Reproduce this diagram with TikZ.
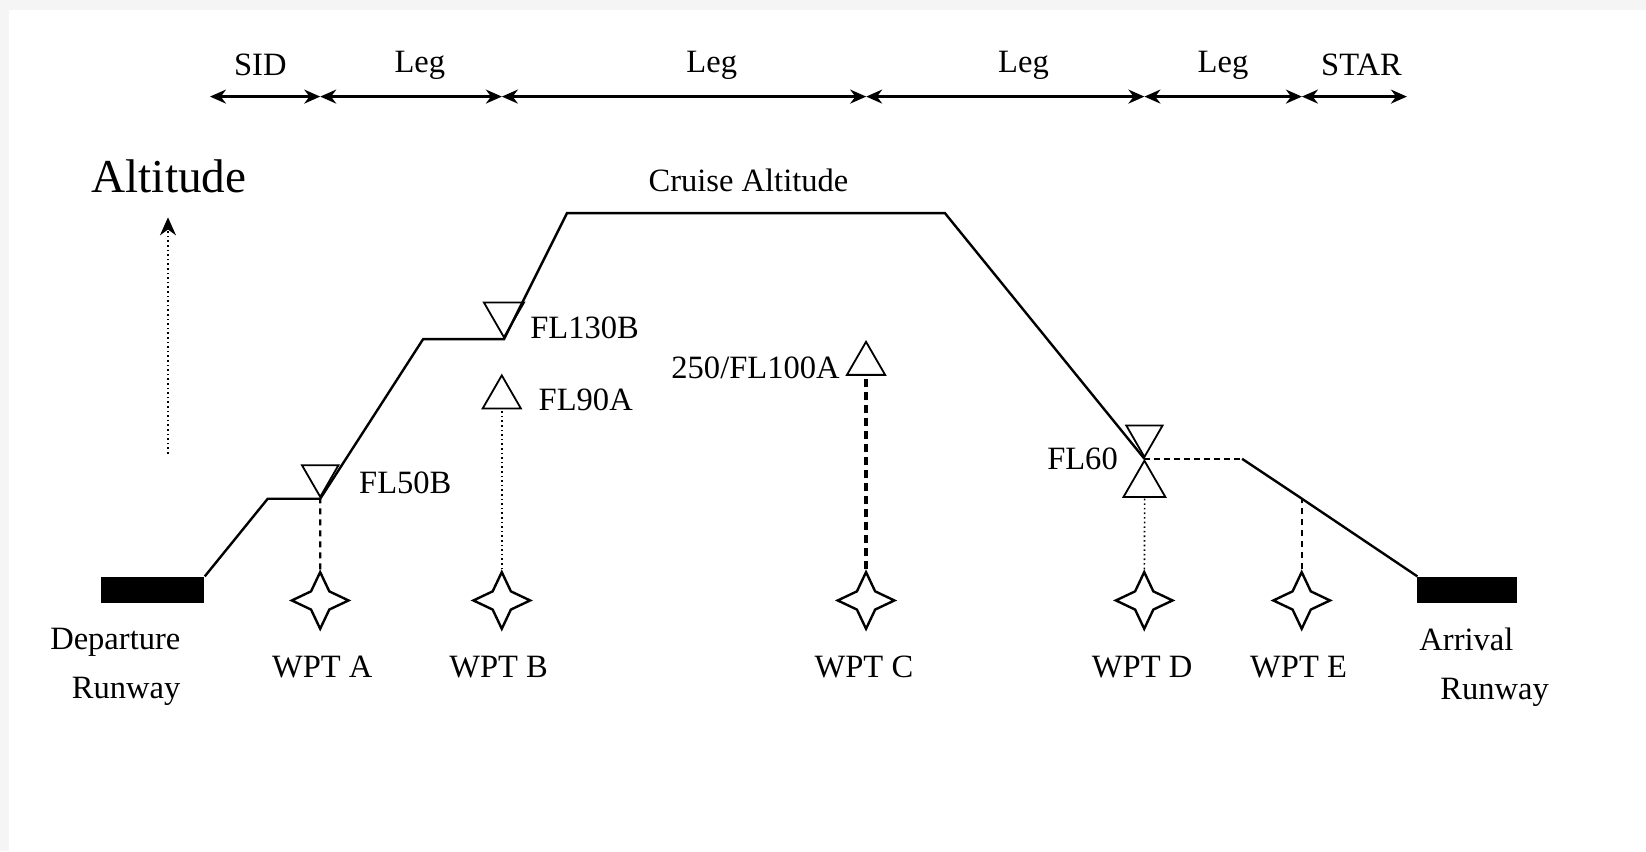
\documentclass[tikz,border=0pt]{standalone}
\usepackage{fontspec}
\setmainfont{Liberation Serif}
\usetikzlibrary{shapes.geometric,arrows.meta}
\tikzset{
  lbl/.style={font=\fontsize{31}{36}\selectfont, inner sep=0pt},
  rwlbl/.style={font=\fontsize{31}{47}\selectfont, inner sep=0pt},
  biglbl/.style={font=\fontsize{45}{50}\selectfont, inner sep=0pt},
  profile/.style={line width=2.4pt},
  dimline/.style={line width=2.4pt, {Stealth[length=16pt,width=14pt]}-{Stealth[length=16pt,width=14pt]}},
  tri/.style={regular polygon, regular polygon sides=3, draw, line width=1.8pt, minimum size=44pt, inner sep=0pt},
  tridown/.style={tri, shape border rotate=180},
  wpt/.style={star, star points=4, star point ratio=2.2, draw, line width=2.4pt, minimum size=54pt, inner sep=0pt},
  runway/.style={fill=black, minimum height=25pt, inner sep=0pt},
  dotline/.style={line width=1.6pt, dash pattern=on 1.6pt off 3pt},
  dashline/.style={line width=2.2pt, dash pattern=on 6pt off 5pt},
  thickdash/.style={line width=4.5pt, dash pattern=on 8pt off 5pt},
}
\begin{document}
\begin{tikzpicture}[x=1pt,y=-1pt,scale=1.0497,every node/.append style={transform shape}]
  \fill[gray!8] (0,0) rectangle (1568,810.7);
  \fill[white] (8.6,9.5) rectangle (1568,810.7);
  \useasboundingbox (0,0) rectangle (1568,810.7);
  % phases along the top
  \coordinate (j0) at (200,92);
  \coordinate (j1) at (305,92);
  \coordinate (j2) at (478,92);
  \coordinate (j3) at (825,92);
  \coordinate (j4) at (1090,92);
  \coordinate (j5) at (1240,92);
  \coordinate (j6) at (1340,92);
  \draw[dimline] (j0) -- (j1);
  \draw[dimline] (j1) -- (j2);
  \draw[dimline] (j2) -- (j3);
  \draw[dimline] (j3) -- (j4);
  \draw[dimline] (j4) -- (j5);
  \draw[dimline] (j5) -- (j6);
  \node[lbl] (sid) at (248,62) {SID};
  \node[lbl] (leg1) at (400,62) {Leg};
  \node[lbl] (leg2) at (678,62) {Leg};
  \node[lbl] (leg3) at (975,62) {Leg};
  \node[lbl] (leg4) at (1165,62) {Leg};
  \node[lbl] (star) at (1297,62) {STAR};
  % altitude axis
  \node[biglbl] (alt) at (161,168) {Altitude};
  \coordinate (alt0) at (160,432);
  \coordinate (alt1) at (160,207);
  \draw[dotline, -{Stealth[length=18pt,width=16pt]}] (alt0) -- (alt1);
  % runways
  \node[runway, minimum width=99pt, anchor=north east] (dep) at (195,549) {};
  \node[runway, minimum width=95pt, anchor=north west] (arr) at (1350,549) {};
  \node[rwlbl, align=right, anchor=north east] (deplbl) at (172,598) {Departure\\Runway};
  \node[rwlbl, align=left, anchor=north west] (arrlbl) at (1352,598) {Arrival\\\hspace{20pt}Runway};
  % profile
  \coordinate (p1) at (255,475);
  \coordinate (fl50) at (305,475);
  \coordinate (p2) at (403,323);
  \coordinate (fl130) at (480,323);
  \coordinate (toc) at (540,203);
  \coordinate (tod) at (900,203);
  \coordinate (fl60) at (1090,437);
  \coordinate (p3) at (1183,437);
  \coordinate (pe) at (1240,475);
  \draw[profile] (dep.north east) -- (p1) -- (fl50) -- (p2) -- (fl130) -- (toc) -- (tod) -- (fl60);
  \draw[line width=1.8pt, dash pattern=on 6pt off 4pt] (fl60) -- (p3);
  \draw[profile] (p3) -- (pe) -- (arr.north west);
  \node[lbl] (cruise) at (713,172) {Cruise Altitude};
  % waypoints
  \node[wpt] (wa) at (305,572) {};
  \node[wpt] (wb) at (478,572) {};
  \node[wpt] (wc) at (825,572) {};
  \node[wpt] (wd) at (1090,572) {};
  \node[wpt] (we) at (1240,572) {};
  \node[lbl] (wal) at (307,635) {WPT A};
  \node[lbl] (wbl) at (475,635) {WPT B};
  \node[lbl] (wcl) at (823,635) {WPT C};
  \node[lbl] (wdl) at (1088,635) {WPT D};
  \node[lbl] (wel) at (1237,635) {WPT E};
  % constraints
  \node[tridown, minimum size=40pt, anchor=corner 1] (t50) at (fl50) {};
  \node[tridown, anchor=corner 1] (t130) at (fl130) {};
  \node[tri, minimum size=42pt, anchor=side 2] (t90) at (478,390) {};
  \node[tri, minimum size=42pt, anchor=side 2] (t100) at (825,358) {};
  \node[tridown, minimum size=40pt, anchor=corner 1] (t60d) at (fl60) {};
  \node[tri, minimum size=46pt, anchor=corner 1] (t60u) at (fl60) {};
  \node[lbl, anchor=west] (l50) at (342,460) {FL50B};
  \node[lbl, anchor=west] (l130) at (505,312) {FL130B};
  \node[lbl, anchor=west] (l90) at (513,381) {FL90A};
  \node[lbl, anchor=east] (l100) at (800,350) {250/FL100A};
  \node[lbl, anchor=east] (l60) at (1065,437) {FL60};
  \draw[dashline] (wa.north) -- (t50.corner 1);
  \draw[dotline] (wb.north) -- (t90.side 2);
  \draw[thickdash] (wc.north) -- (t100.side 2);
  \draw[dotline] (wd.north) -- (t60u.side 2);
  \draw[dashline] (we.north) -- (pe);
\end{tikzpicture}
\end{document}
